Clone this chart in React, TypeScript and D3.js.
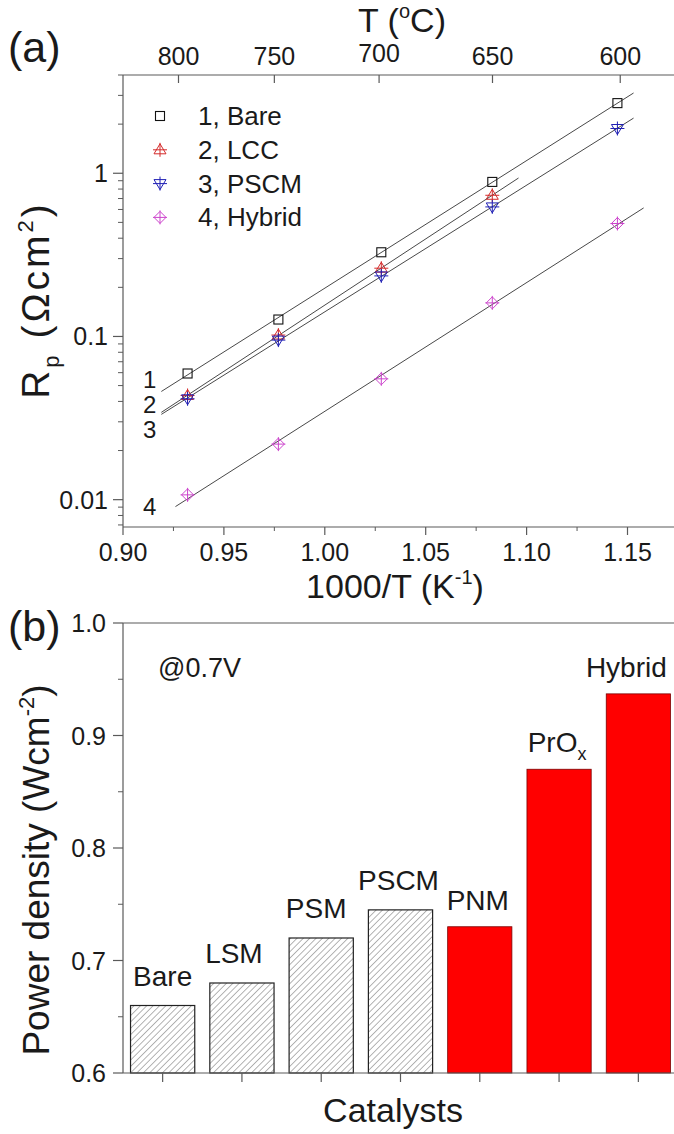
import React from 'react';
import * as d3 from 'd3';

const W = 674;
const H = 1134;
const FONT = '"Liberation Sans", Arial, Helvetica, sans-serif';

// ---- Panel (a): polarization resistance vs 1000/T ----
const invT = [0.932, 0.977, 1.028, 1.083, 1.145];
const rpBare = [0.0593, 0.127, 0.328, 0.885, 2.69];
const rpLCC = [0.0435, 0.102, 0.262, 0.733];
const rpPSCM = [0.0415, 0.095, 0.235, 0.622, 1.88];
const rpHybrid = [0.0107, 0.0219, 0.055, 0.1606, 0.492];
const seriesNames = ['1, Bare', '2, LCC', '3, PSCM', '4, Hybrid'];
const seriesNumbers = ['1', '2', '3', '4'];
// x-extent of each linear fit (in 1000/T units)
const fitStart = [0.919, 0.919, 0.919, 0.926];
const fitEnd = [1.153, 1.096, 1.153, 1.158];
const bottomTicks = [0.9, 0.95, 1.0, 1.05, 1.1, 1.15];
const topTickLabels = ['800', '750', '700', '650', '600'];
const topTickPos = [0.9275, 0.975, 1.0269, 1.0831, 1.1464];
const yTicksA = [0.01, 0.1, 1];

// ---- Panel (b): power density at 0.7 V ----
const catalysts = ['Bare', 'LSM', 'PSM', 'PSCM', 'PNM', 'PrOx', 'Hybrid'];
const powerDensity = [0.66, 0.68, 0.72, 0.745, 0.73, 0.87, 0.937];
const hatched = [true, true, true, true, false, false, false];
const yTicksB = [0.6, 0.7, 0.8, 0.9, 1.0];

type Shape = 'square' | 'up' | 'down' | 'diamond';
const shapes: Shape[] = ['square', 'up', 'down', 'diamond'];
const colors = ['#111111', '#d42a2a', '#1f1fb4', '#cc44cc'];
const seriesData = [rpBare, rpLCC, rpPSCM, rpHybrid];

function Marker({ x, y, shape, color }: { x: number; y: number; shape: Shape; color: string }) {
  const s = 5;
  let body: React.ReactNode = null;
  if (shape === 'square') {
    body = <rect x={x - 4.5} y={y - 4.5} width={9} height={9} fill="none" stroke={color} strokeWidth={1.1} />;
  } else if (shape === 'up') {
    body = <path d={`M${x},${y - s - 1}L${x + s + 1},${y + s - 1}L${x - s - 1},${y + s - 1}Z`} fill="none" stroke={color} strokeWidth={1} />;
  } else if (shape === 'down') {
    body = <path d={`M${x},${y + s + 1}L${x + s + 1},${y - s + 1}L${x - s - 1},${y - s + 1}Z`} fill="none" stroke={color} strokeWidth={1} />;
  } else {
    body = <path d={`M${x},${y - s - 1}L${x + s + 1},${y}L${x},${y + s + 1}L${x - s - 1},${y}Z`} fill="none" stroke={color} strokeWidth={1} />;
  }
  const cross =
    shape === 'square' ? null : (
      <g stroke={color} strokeWidth={1}>
        <line x1={x - 7} x2={x + 7} y1={y} y2={y} />
        <line x1={x} x2={x} y1={y - 7} y2={y + 7} />
      </g>
    );
  return (
    <g>
      {body}
      {cross}
    </g>
  );
}

function linFit(xs: number[], ys: number[]) {
  const n = ys.length;
  const lx = xs.slice(0, n);
  const ly = ys.map((v) => Math.log10(v));
  const mx = d3.mean(lx)!;
  const my = d3.mean(ly)!;
  let num = 0;
  let den = 0;
  for (let i = 0; i < n; i++) {
    num += (lx[i] - mx) * (ly[i] - my);
    den += (lx[i] - mx) * (lx[i] - mx);
  }
  const b = num / den;
  const a = my - b * mx;
  return (x: number) => Math.pow(10, a + b * x);
}

export default function App() {
  // Panel (a) geometry
  const aLeft = 123;
  const aTop = 75;
  const aBottom = 527;
  const aRight = 690;
  const xA = d3.scaleLinear().domain([0.9, 0.9 + (aRight - aLeft) / 2018]).range([aLeft, aRight]);
  const yA = d3.scaleLog().domain([0.0068, 4]).range([aBottom, aTop]);

  const minorA: number[] = [];
  [0.001, 0.01, 0.1, 1].forEach((dec) => {
    for (let k = 2; k <= 9; k++) {
      const v = k * dec;
      if (v >= 0.0068 && v <= 4) minorA.push(v);
    }
  });
  const minorX: number[] = [0.925, 0.975, 1.025, 1.075, 1.125, 1.175];

  // Panel (b) geometry
  const bLeft = 123;
  const bTop = 623;
  const bBottom = 1073;
  const bRight = 678;
  const xB = d3.scaleLinear().domain([0.5, 7.5]).range([bLeft, bRight]);
  const yB = d3.scaleLinear().domain([0.6, 1.0]).range([bBottom, bTop]);
  const barW = (xB(1) - xB(0)) * 0.81;
  const minorB = [0.65, 0.75, 0.85, 0.95];
  const labelDx = [0, -8, -5, -2, -2, -2, -12];

  const axisColor = '#5a5a5a';
  const textColor = '#1a1a1a';

  return (
    <svg
      width={W}
      height={H}
      viewBox={`0 0 ${W} ${H}`}
      style={{ position: 'absolute', left: 0, top: 0, background: '#fff' }}
      fontFamily={FONT}
    >
      <defs>
        <pattern id="hatch" patternUnits="userSpaceOnUse" width={4.5} height={4.5} patternTransform="rotate(45)">
          <rect width={4.5} height={4.5} fill="#fff" />
          <line x1={0} y1={0} x2={0} y2={4.5} stroke="#444" strokeWidth={0.8} />
        </pattern>
        <clipPath id="clipA">
          <rect x={aLeft} y={aTop} width={aRight - aLeft} height={aBottom - aTop} />
        </clipPath>
      </defs>
      <rect width={W} height={H} fill="#fff" />

      {/* ===== Panel (a) ===== */}
      <text x={8} y={62} fontSize={43} fill={textColor}>(a)</text>

      {/* top temperature axis */}
      <line x1={aLeft} x2={aRight} y1={aTop} y2={aTop} stroke={axisColor} strokeWidth={1.2} />
      {topTickPos.map((p, i) => (
        <g key={`tt${i}`}>
          <line x1={xA(p)} x2={xA(p)} y1={aTop} y2={aTop + 8} stroke={axisColor} strokeWidth={1.2} />
          <text x={xA(p)} y={i === 2 ? 62 : 65} fontSize={25} textAnchor="middle" fill={textColor}>
            {topTickLabels[i]}
          </text>
        </g>
      ))}
      <text x={402} y={32} fontSize={34} textAnchor="middle" fill={textColor}>
        T (<tspan fontSize={20} dy={-14}>o</tspan>
        <tspan dy={14}>C)</tspan>
      </text>

      {/* bottom axis */}
      <line x1={aLeft} x2={aRight} y1={aBottom} y2={aBottom} stroke={axisColor} strokeWidth={1.2} />
      {bottomTicks.map((t) => (
        <g key={`bt${t}`}>
          <line x1={xA(t)} x2={xA(t)} y1={aBottom} y2={aBottom + 8} stroke={axisColor} strokeWidth={1.2} />
          <text x={xA(t)} y={561} fontSize={25} textAnchor="middle" fill={textColor}>
            {t.toFixed(2)}
          </text>
        </g>
      ))}
      {minorX.map((t) => (
        <line key={`mx${t}`} x1={xA(t)} x2={xA(t)} y1={aBottom} y2={aBottom + 4} stroke={axisColor} strokeWidth={1} />
      ))}
      <text x={395} y={598} fontSize={34} textAnchor="middle" fill={textColor}>
        1000/T (K<tspan fontSize={20} dy={-14}>-1</tspan>
        <tspan dy={14}>)</tspan>
      </text>

      {/* left log axis */}
      <line x1={aLeft} x2={aLeft} y1={aTop} y2={aBottom} stroke={axisColor} strokeWidth={1.2} />
      {yTicksA.map((t) => (
        <g key={`ya${t}`}>
          <line x1={aLeft - 10} x2={aLeft} y1={yA(t)} y2={yA(t)} stroke={axisColor} strokeWidth={1.2} />
          <text x={108} y={yA(t) + 9} fontSize={25} textAnchor="end" fill={textColor}>
            {String(t)}
          </text>
        </g>
      ))}
      {minorA.map((t) => (
        <line key={`ma${t}`} x1={aLeft - 5} x2={aLeft} y1={yA(t)} y2={yA(t)} stroke={axisColor} strokeWidth={1} />
      ))}
      <text
        transform={`translate(49,${300}) rotate(-90)`}
        fontSize={39}
        letterSpacing={3}
        textAnchor="middle"
        fill={textColor}
      >
        R<tspan fontSize={22} dy={10}>p</tspan>
        <tspan dy={-10}> (Ωcm</tspan>
        <tspan fontSize={22} dy={-16}>2</tspan>
        <tspan dy={16}>)</tspan>
      </text>

      {/* fit lines */}
      <g clipPath="url(#clipA)">
        {seriesData.map((vals, i) => {
          const f = linFit(invT, vals);
          return (
            <line
              key={`fit${i}`}
              x1={xA(fitStart[i])}
              y1={yA(f(fitStart[i]))}
              x2={xA(fitEnd[i])}
              y2={yA(f(fitEnd[i]))}
              stroke="#333"
              strokeWidth={0.9}
            />
          );
        })}
      </g>

      {/* data markers */}
      {seriesData.map((vals, i) =>
        vals.map((v, j) => <Marker key={`m${i}-${j}`} x={xA(invT[j])} y={yA(v)} shape={shapes[i]} color={colors[i]} />)
      )}

      {/* line numbers */}
      {seriesNumbers.map((s, i) => {
        const ys = [388, 413, 438, 515];
        return (
          <text key={`num${i}`} x={143} y={ys[i]} fontSize={24} fill={textColor}>
            {s}
          </text>
        );
      })}

      {/* legend */}
      {seriesNames.map((name, i) => {
        const ly = 116 + i * 33.8;
        return (
          <g key={`lg${i}`}>
            <Marker x={160} y={ly} shape={shapes[i]} color={colors[i]} />
            <text x={198} y={ly + 9} fontSize={26} fill={textColor}>
              {name}
            </text>
          </g>
        );
      })}

      {/* ===== Panel (b) ===== */}
      <text x={8} y={641} fontSize={43} fill={textColor}>(b)</text>

      <line x1={bLeft} x2={bRight} y1={bTop} y2={bTop} stroke={axisColor} strokeWidth={1.2} />
      <line x1={bLeft} x2={bLeft} y1={bTop} y2={bBottom} stroke={axisColor} strokeWidth={1.2} />

      {catalysts.map((c, i) => {
        const cx = xB(i + 1);
        const y0 = yB(powerDensity[i]);
        return (
          <g key={`bar${c}`}>
            <rect
              x={cx - barW / 2}
              y={y0}
              width={barW}
              height={bBottom - y0}
              fill={hatched[i] ? 'url(#hatch)' : '#ff0000'}
              stroke={hatched[i] ? '#222' : '#7a0000'}
              strokeWidth={hatched[i] ? 1.2 : 0.8}
            />
            <line x1={cx} x2={cx} y1={bBottom} y2={bBottom + 9} stroke={axisColor} strokeWidth={1.2} />
            <text x={cx + labelDx[i]} y={y0 - (hatched[i] ? 20 : 17)} fontSize={28} textAnchor="middle" fill={textColor}>
              {c === 'PrOx' ? (
                <>
                  PrO<tspan fontSize={18} dy={8}>x</tspan>
                </>
              ) : (
                c
              )}
            </text>
          </g>
        );
      })}

      <line x1={bLeft} x2={bRight} y1={bBottom} y2={bBottom} stroke={axisColor} strokeWidth={1.2} />
      {yTicksB.map((t) => (
        <g key={`yb${t}`}>
          <line x1={bLeft - 10} x2={bLeft} y1={yB(t)} y2={yB(t)} stroke={axisColor} strokeWidth={1.2} />
          <text x={106} y={yB(t) + 9} fontSize={25} textAnchor="end" fill={textColor}>
            {t.toFixed(1)}
          </text>
        </g>
      ))}
      {minorB.map((t) => (
        <line key={`mb${t}`} x1={bLeft - 5} x2={bLeft} y1={yB(t)} y2={yB(t)} stroke={axisColor} strokeWidth={1} />
      ))}

      <text x={158} y={677} fontSize={27} fill={textColor}>@0.7V</text>

      <text transform={`translate(49,${870}) rotate(-90)`} fontSize={37} textAnchor="middle" fill={textColor}>
        Power density (Wcm<tspan fontSize={22} dy={-15}>-2</tspan>
        <tspan dy={15}>)</tspan>
      </text>
      <text x={393} y={1122} fontSize={34} textAnchor="middle" fill={textColor}>
        Catalysts
      </text>
    </svg>
  );
}
